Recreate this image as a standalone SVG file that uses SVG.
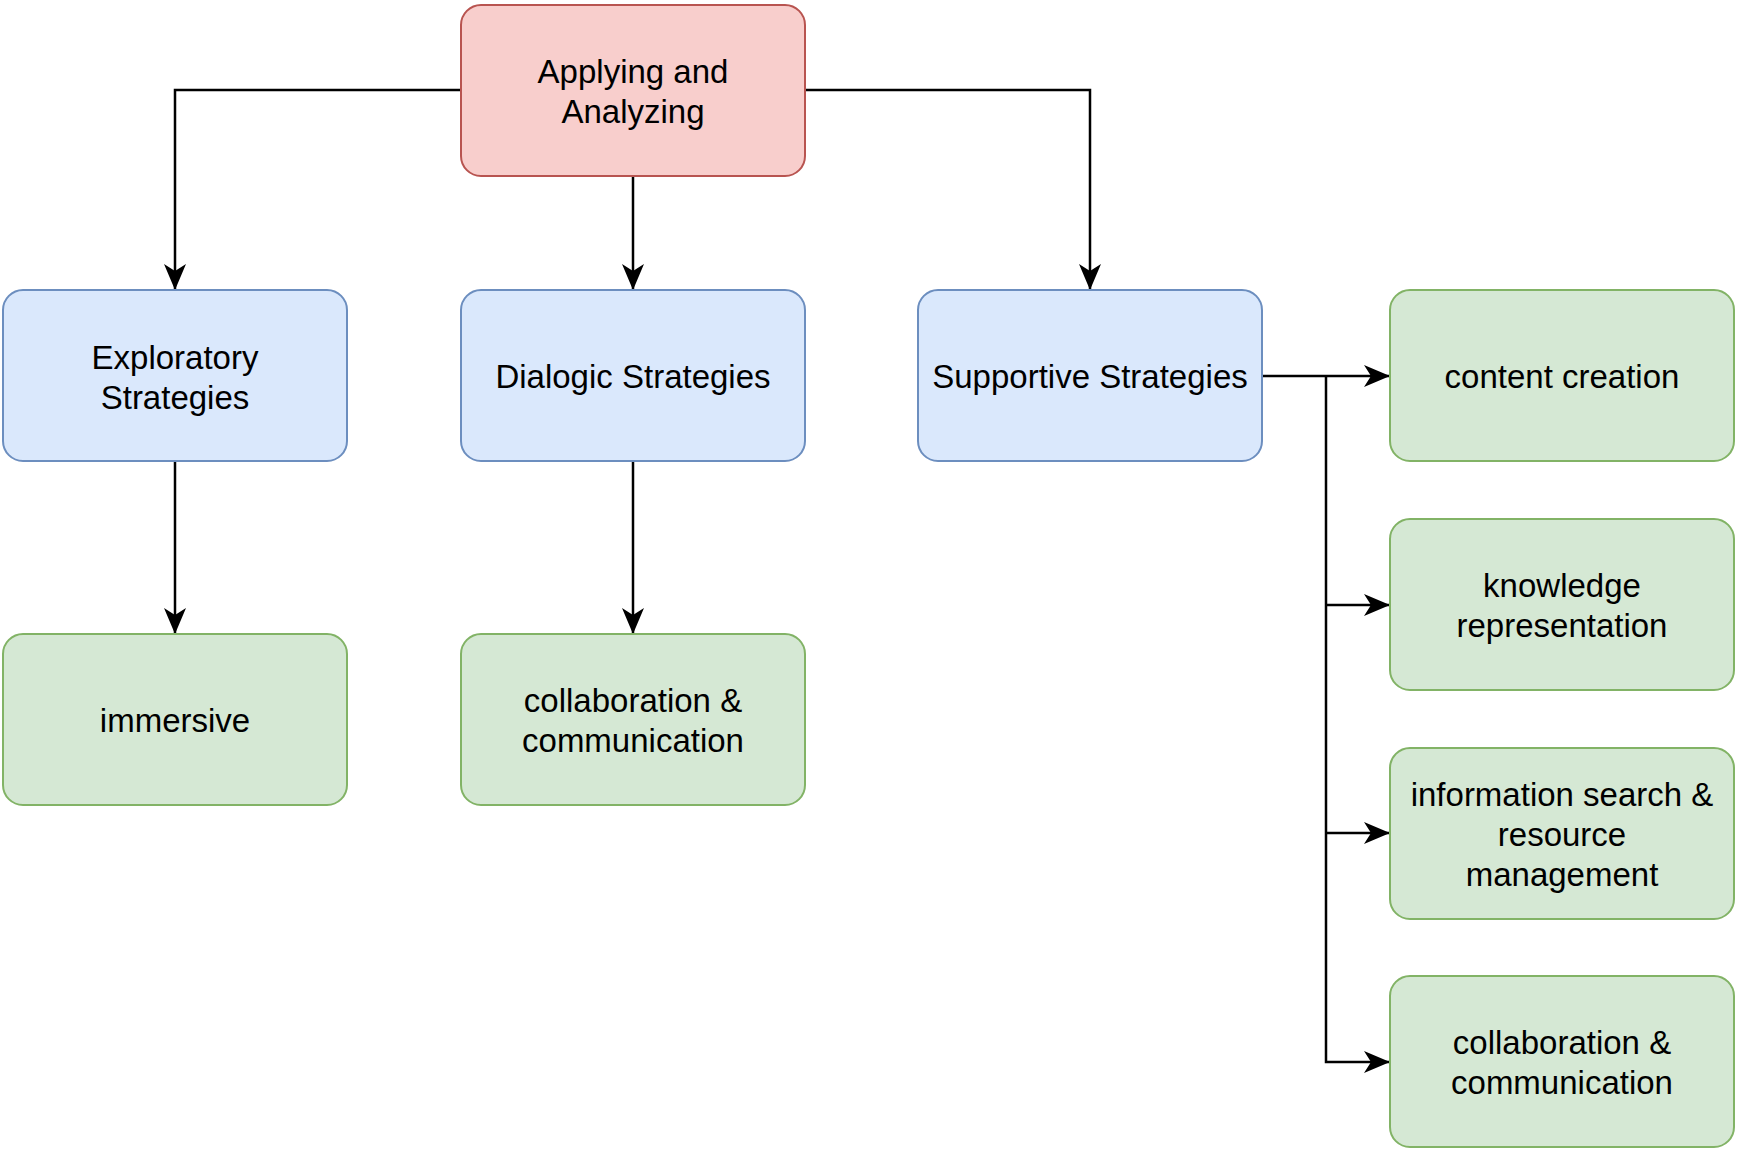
<svg xmlns="http://www.w3.org/2000/svg" width="1738" height="1154" viewBox="0 0 1738 1154">
<style>
.box{stroke-width:2}
.red{fill:#f8cecc;stroke:#b85450}
.blue{fill:#dae8fc;stroke:#6c8ebf}
.green{fill:#d5e8d4;stroke:#82b366}
text{font-family:"Liberation Sans",Arial,Helvetica,sans-serif;font-size:33px;fill:#000;text-anchor:middle}
.edge{fill:none;stroke:#000;stroke-width:2.5}
</style>
<defs>
<marker id="arr" markerUnits="userSpaceOnUse" viewBox="0 0 26 22" markerWidth="26" markerHeight="22" refX="26" refY="11" orient="auto">
<path d="M0,0 L26,11 L0,22 L7,11 Z" fill="#000"/>
</marker>
</defs>
<rect width="1738" height="1154" fill="#fff"/>
<g id="edges">
<path class="edge" d="M461,90 H175 V290" marker-end="url(#arr)"/>
<path class="edge" d="M633,176 V290" marker-end="url(#arr)"/>
<path class="edge" d="M805,90 H1090 V290" marker-end="url(#arr)"/>
<path class="edge" d="M175,461 V634" marker-end="url(#arr)"/>
<path class="edge" d="M633,461 V634" marker-end="url(#arr)"/>
<path class="edge" d="M1261,376 H1390" marker-end="url(#arr)"/>
<path class="edge" d="M1326,376 V1062 H1390" marker-end="url(#arr)"/>
<path class="edge" d="M1326,605 H1390" marker-end="url(#arr)"/>
<path class="edge" d="M1326,833 H1390" marker-end="url(#arr)"/>
</g>
<g id="root">
<rect class="box red" x="461" y="5" width="344" height="171" rx="20"/>
<text x="633" y="83">Applying and</text>
<text x="633" y="123">Analyzing</text>
</g>
<g id="exploratory">
<rect class="box blue" x="3" y="290" width="344" height="171" rx="20"/>
<text x="175" y="369">Exploratory</text>
<text x="175" y="409">Strategies</text>
</g>
<g id="dialogic">
<rect class="box blue" x="461" y="290" width="344" height="171" rx="20"/>
<text x="633" y="388">Dialogic Strategies</text>
</g>
<g id="supportive">
<rect class="box blue" x="918" y="290" width="344" height="171" rx="20"/>
<text x="1090" y="388">Supportive Strategies</text>
</g>
<g id="immersive">
<rect class="box green" x="3" y="634" width="344" height="171" rx="20"/>
<text x="175" y="732">immersive</text>
</g>
<g id="collab1">
<rect class="box green" x="461" y="634" width="344" height="171" rx="20"/>
<text x="633" y="712">collaboration &amp;</text>
<text x="633" y="752">communication</text>
</g>
<g id="content">
<rect class="box green" x="1390" y="290" width="344" height="171" rx="20"/>
<text x="1562" y="388">content creation</text>
</g>
<g id="knowledge">
<rect class="box green" x="1390" y="519" width="344" height="171" rx="20"/>
<text x="1562" y="597">knowledge</text>
<text x="1562" y="637">representation</text>
</g>
<g id="info">
<rect class="box green" x="1390" y="748" width="344" height="171" rx="20"/>
<text x="1562" y="806">information search &amp;</text>
<text x="1562" y="846">resource</text>
<text x="1562" y="886">management</text>
</g>
<g id="collab2">
<rect class="box green" x="1390" y="976" width="344" height="171" rx="20"/>
<text x="1562" y="1054">collaboration &amp;</text>
<text x="1562" y="1094">communication</text>
</g>
</svg>
